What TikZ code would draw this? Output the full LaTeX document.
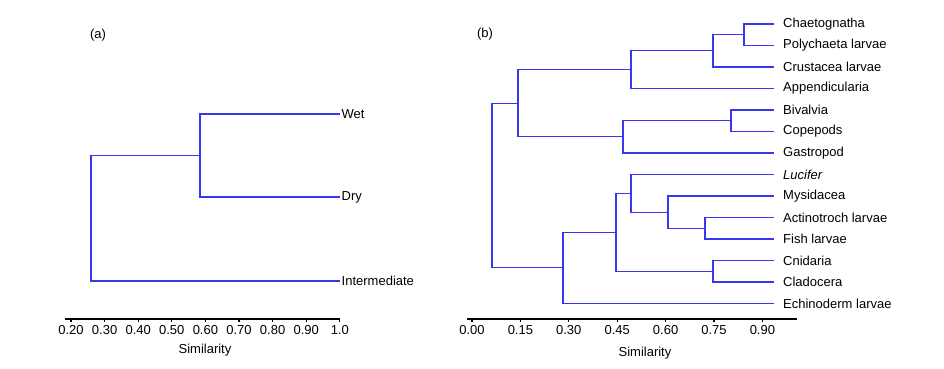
\documentclass[tikz,border=0pt]{standalone}
\usepackage{fontspec}
\setmainfont{Liberation Sans}
\usetikzlibrary{positioning}
\definecolor{branch}{RGB}{55,55,240}

\tikzset{
  txt/.style={font=\fontsize{13}{15}\selectfont, inner sep=0pt},
  leafa/.style={txt, anchor=west, inner xsep=1.5pt},
  leafb/.style={txt, anchor=west, inner xsep=9pt},
  tree/.style={branch, line width=1.1pt},
  axis/.style={black, line width=1.1pt}
}

\begin{document}
\begin{tikzpicture}[x=1pt,y=-1pt]
  \useasboundingbox (0,0) rectangle (944,368);

  % Panel (a)
  \node[txt] (taga) at (98,35) {(a)};
  \node[leafa] (wet) at (340,114) {Wet};
  \node[leafa] (dry) at (340,197) {Dry};
  \node[leafa] (inter) at (340,281) {Intermediate};
  \coordinate (wd) at (200,155.5);
  \coordinate (rta) at (91,218);
  \draw[tree] (wet.west) -| (wd) |- (dry.west);
  \draw[tree] (wd) -| (rta) |- (inter.west);

  % Axis (a)
  \draw[axis] (65,319) -- (340,319);
  \foreach \v [count=\i from 0] in {0.20,0.30,0.40,0.50,0.60,0.70,0.80,0.90,1.0} {
    \draw[axis] (71+33.6*\i,319) -- (71+33.6*\i,322);
    \node[txt] at (71+33.6*\i,330) {\v};
  }
  \node[txt] (sima) at (205,350) {Similarity};

  % Panel (b)
  \node[txt] (tagb) at (485,34) {(b)};
  \node[leafb] (chae) at (774,24) {Chaetognatha};
  \node[leafb] (poly) at (774,45.5) {Polychaeta larvae};
  \node[leafb] (crus) at (774,67) {Crustacea larvae};
  \node[leafb] (appe) at (774,88.5) {Appendicularia};
  \node[leafb] (biva) at (774,110) {Bivalvia};
  \node[leafb] (cope) at (774,131.5) {Copepods};
  \node[leafb] (gast) at (774,153) {Gastropod};
  \node[leafb] (luci) at (774,174.5) {\itshape Lucifer};
  \node[leafb] (mysi) at (774,196) {Mysidacea};
  \node[leafb] (acti) at (774,217.5) {Actinotroch larvae};
  \node[leafb] (fish) at (774,239) {Fish larvae};
  \node[leafb] (cnid) at (774,260.5) {Cnidaria};
  \node[leafb] (clad) at (774,282) {Cladocera};
  \node[leafb] (echi) at (774,303.5) {Echinoderm larvae};

  % Joins (b)
  \coordinate (cp) at (744,34.75);
  \coordinate (ccp) at (713,50.9);
  \coordinate (ccpa) at (631,69.7);
  \coordinate (bc) at (731,120.75);
  \coordinate (bcg) at (623,136.9);
  \coordinate (upper) at (518,103.3);
  \coordinate (af) at (705,228.25);
  \coordinate (maf) at (668,212.1);
  \coordinate (lmaf) at (631,193.3);
  \coordinate (cc) at (713,271.25);
  \coordinate (lower) at (616,232.3);
  \coordinate (lowe) at (563,267.9);
  \coordinate (rtb) at (492,185.6);

  \draw[tree] (chae.west) -| (cp) |- (poly.west);
  \draw[tree] (cp) -| (ccp) |- (crus.west);
  \draw[tree] (ccp) -| (ccpa) |- (appe.west);
  \draw[tree] (biva.west) -| (bc) |- (cope.west);
  \draw[tree] (bc) -| (bcg) |- (gast.west);
  \draw[tree] (ccpa) -| (upper) |- (bcg);
  \draw[tree] (acti.west) -| (af) |- (fish.west);
  \draw[tree] (mysi.west) -| (maf) |- (af);
  \draw[tree] (luci.west) -| (lmaf) |- (maf);
  \draw[tree] (cnid.west) -| (cc) |- (clad.west);
  \draw[tree] (lmaf) -| (lower) |- (cc);
  \draw[tree] (lower) -| (lowe) |- (echi.west);
  \draw[tree] (upper) -| (rtb) |- (lowe);

  % Axis (b)
  \draw[axis] (467,319) -- (797,319);
  \foreach \v [count=\i from 0] in {0.00,0.15,0.30,0.45,0.60,0.75,0.90} {
    \draw[axis] (472+48.4*\i,319) -- (472+48.4*\i,322);
    \node[txt] at (472+48.4*\i,330) {\v};
  }
  \node[txt] (simb) at (645,353) {Similarity};
\end{tikzpicture}
\end{document}
